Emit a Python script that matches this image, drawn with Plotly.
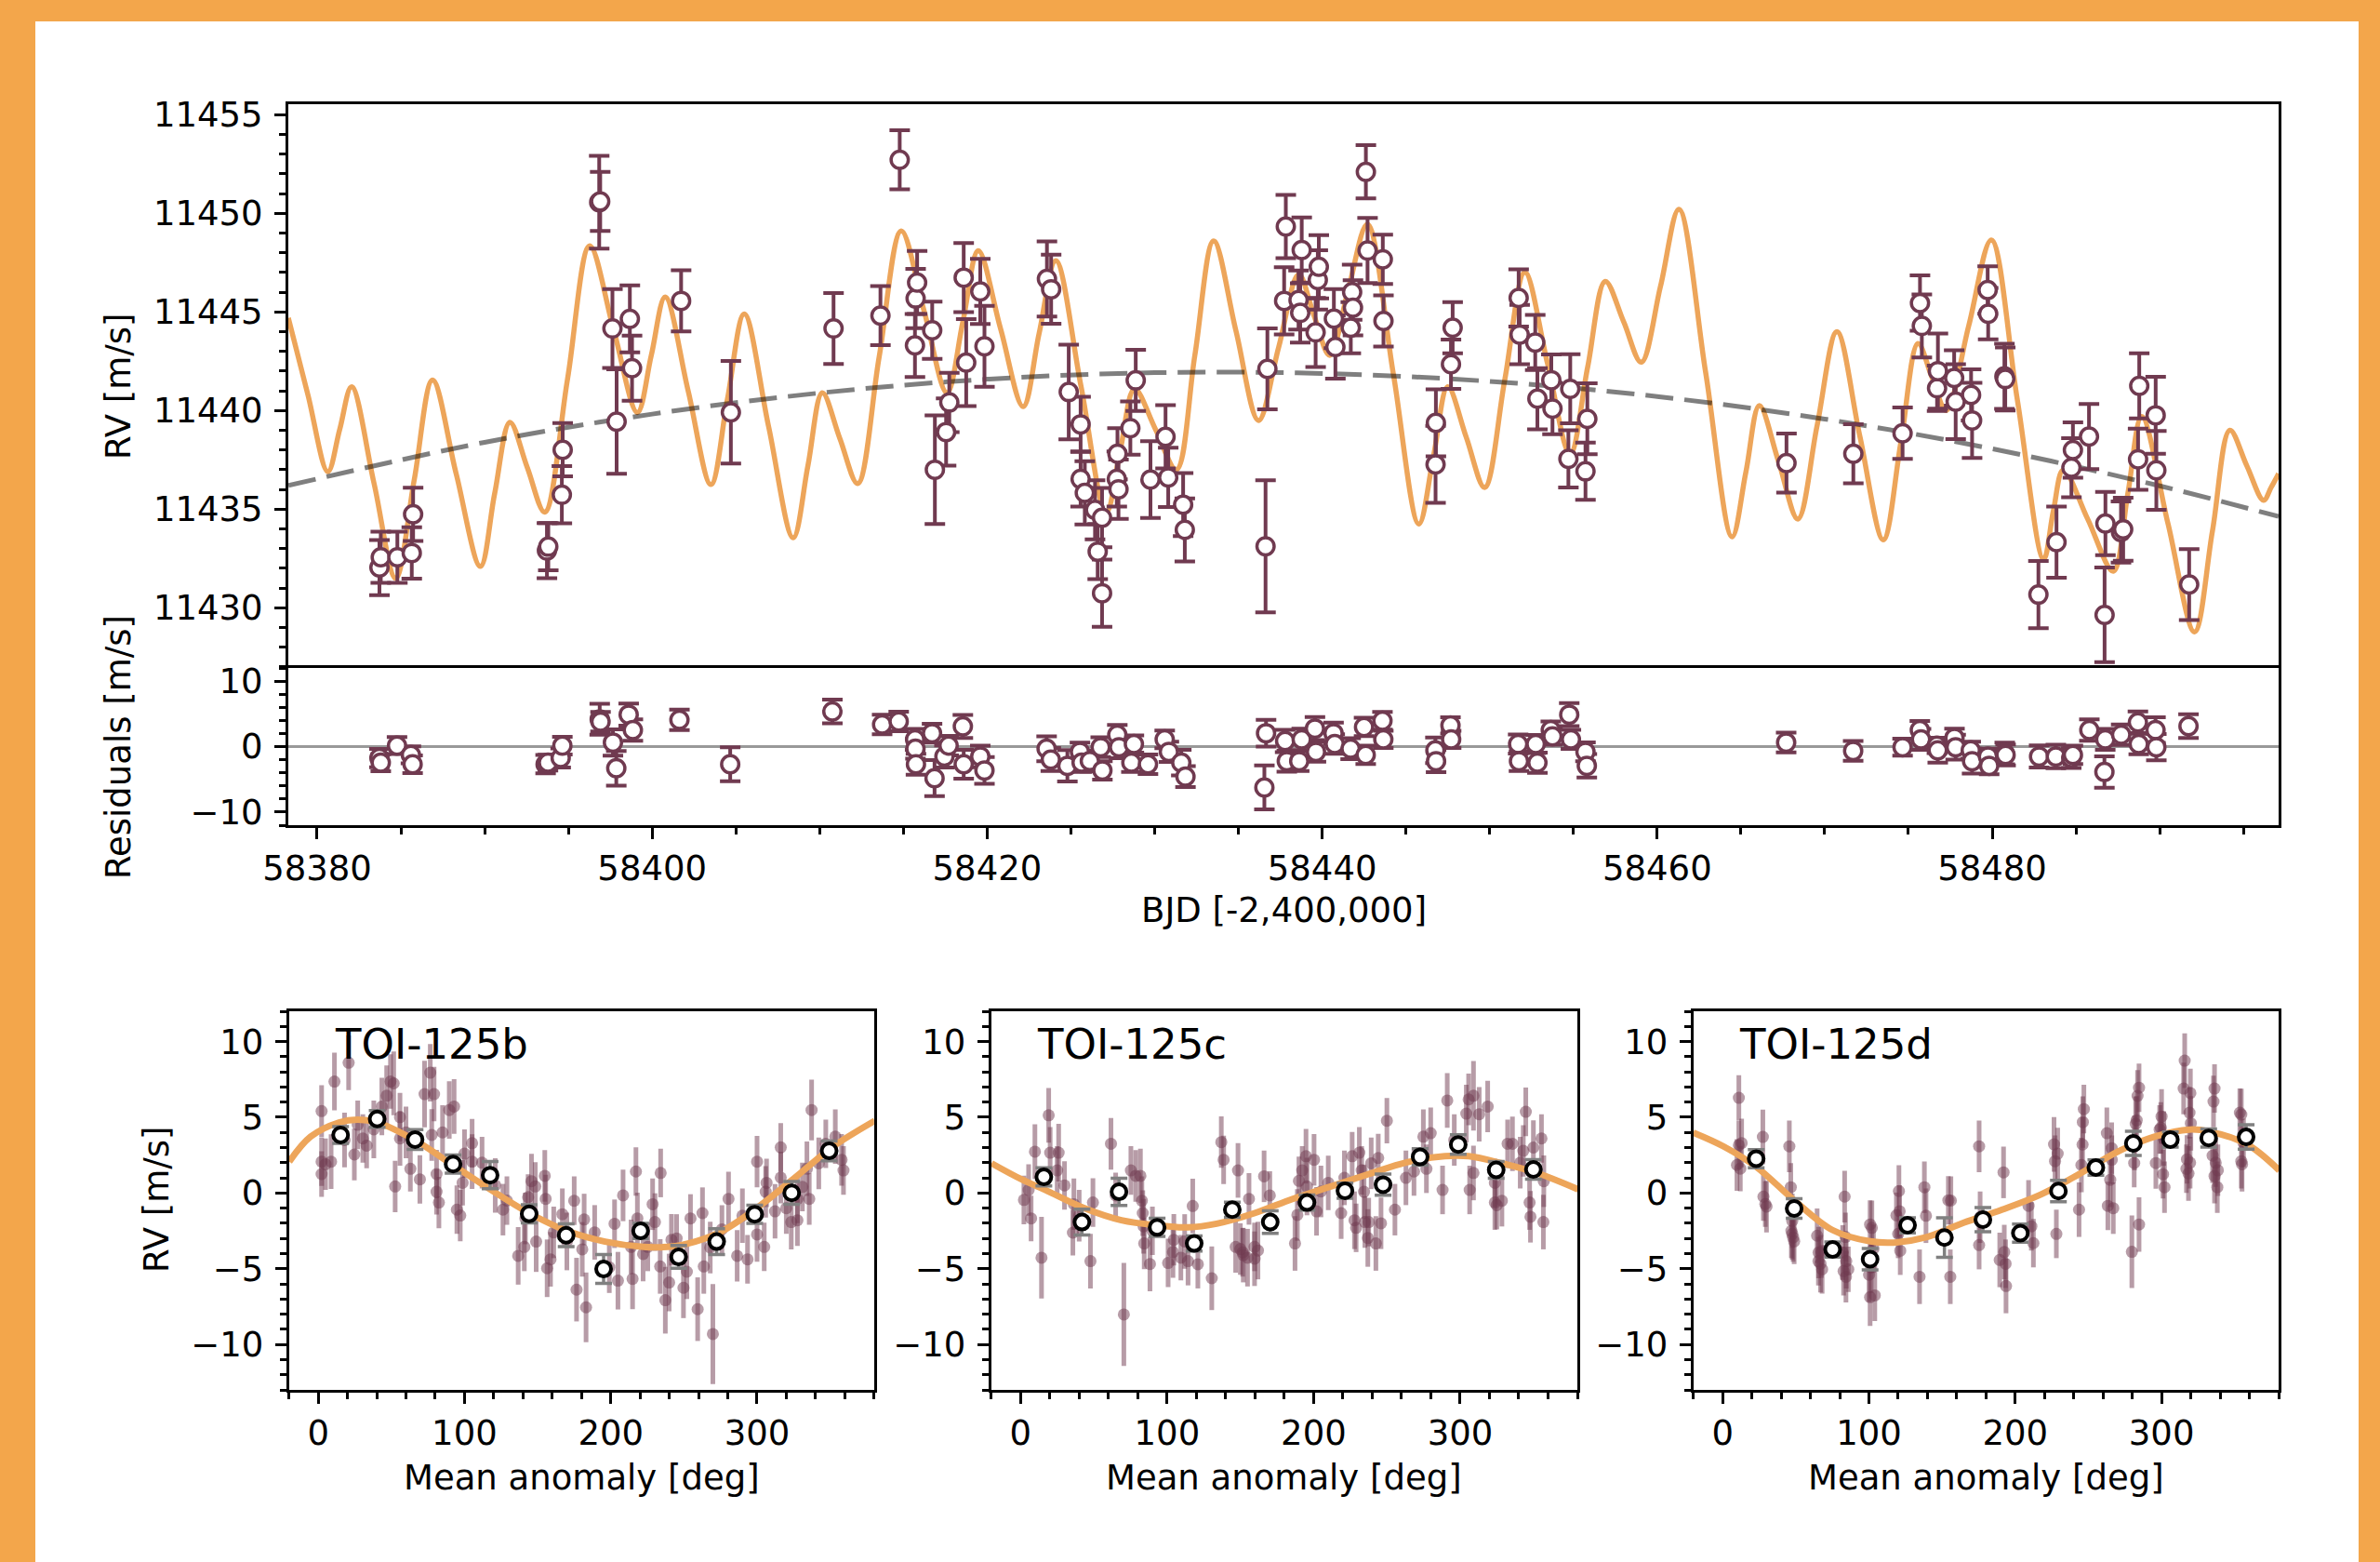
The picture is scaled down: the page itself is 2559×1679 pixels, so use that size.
import plotly.graph_objects as go

W, H = 2559, 1679

# ---------------- data: top panel (RV time series) ----------------
rv_t = [58383.72, 58383.80, 58384.79, 58385.65, 58385.73, 58393.72, 58393.80, 58394.61, 58394.66, 58396.84,
        58396.90, 58397.63, 58397.88, 58398.67, 58398.80, 58401.73, 58404.70, 58410.83, 58413.63, 58414.78,
        58415.69, 58415.73, 58415.82, 58416.72, 58416.88, 58417.55, 58417.74, 58418.60, 58418.75, 58419.59,
        58419.84, 58423.57, 58423.82, 58424.87, 58425.58, 58425.58, 58425.83, 58426.44, 58426.60, 58426.86,
        58426.86, 58427.74, 58427.78, 58427.84, 58428.55, 58428.87, 58429.75, 58430.65, 58430.81, 58431.70,
        58431.80, 58436.62, 58436.73, 58437.73, 58437.83, 58438.59, 58438.69, 58438.78, 58439.61, 58439.74,
        58439.80, 58440.70, 58440.79, 58441.71, 58441.79, 58441.84, 58442.61, 58442.71, 58443.62, 58443.66,
        58446.77, 58446.79, 58447.69, 58447.79, 58451.73, 58451.79, 58452.72, 58452.85, 58453.68, 58453.75,
        58454.70, 58454.81, 58455.72, 58455.83, 58467.72, 58471.71, 58474.65, 58475.69, 58475.80, 58476.71,
        58476.76, 58477.73, 58477.82, 58478.74, 58478.80, 58479.73, 58479.76, 58480.73, 58480.78, 58482.76,
        58483.84, 58484.73, 58484.82, 58485.78, 58486.71, 58486.76, 58487.69, 58487.82, 58488.71, 58488.78,
        58489.76, 58489.80, 58491.76]
rv_v = [11432.04, 11432.56, 11432.56, 11432.78, 11434.74, 11432.90, 11433.10, 11435.73, 11438.01, 11450.56,
        11450.60, 11444.16, 11439.44, 11444.65, 11442.15, 11445.56, 11439.91, 11444.16, 11444.81, 11452.71,
        11443.30, 11445.68, 11446.49, 11444.07, 11437.00, 11438.91, 11440.41, 11446.74, 11442.43, 11446.04,
        11443.26, 11446.67, 11446.15, 11440.94, 11439.30, 11436.53, 11435.83, 11434.97, 11432.85, 11434.57,
        11430.74, 11436.53, 11437.81, 11436.01, 11439.11, 11441.53, 11436.50, 11438.67, 11436.61, 11435.23,
        11433.95, 11433.12, 11442.11, 11445.56, 11449.33, 11445.60, 11444.95, 11448.14, 11443.96, 11446.62,
        11447.29, 11444.66, 11443.22, 11444.20, 11446.00, 11445.21, 11452.10, 11448.11, 11447.67, 11444.54,
        11437.27, 11439.38, 11442.35, 11444.20, 11445.71, 11443.85, 11443.45, 11440.60, 11441.54, 11440.10,
        11437.55, 11441.10, 11436.92, 11439.58, 11437.34, 11437.81, 11438.85, 11445.45, 11444.29, 11441.13,
        11442.00, 11441.65, 11440.45, 11440.79, 11439.50, 11446.11, 11444.91, 11441.73, 11441.60, 11430.67,
        11433.33, 11437.10, 11438.00, 11438.68, 11429.64, 11434.27, 11433.84, 11433.98, 11437.53, 11441.25,
        11439.76, 11436.97, 11431.18]
rv_err = [1.4, 1.3, 1.3, 1.3, 1.35, 1.4, 1.2, 1.45, 1.35, 2.35,
          1.5, 2.0, 2.65, 1.7, 1.65, 1.55, 2.6, 1.8, 1.5, 1.5,
          1.6, 1.5, 1.6, 1.45, 2.75, 1.7, 1.5, 1.75, 2.2, 1.65,
          2.05, 1.9, 1.75, 2.4, 1.4, 1.4, 1.6, 1.5, 1.4, 1.5,
          1.7, 1.4, 1.3, 1.5, 1.35, 1.55, 1.95, 1.6, 1.5, 1.6,
          1.6, 3.35, 2.05, 1.7, 1.6, 1.5, 1.5, 1.65, 1.75, 1.5,
          1.6, 1.5, 1.6, 1.3, 1.4, 1.4, 1.35, 1.65, 1.25, 1.3,
          1.95, 1.7, 1.25, 1.3, 1.45, 1.5, 1.4, 1.55, 1.3, 1.3,
          1.45, 1.75, 1.45, 1.8, 1.5, 1.5, 1.3, 1.4, 1.6, 1.15,
          1.9, 1.4, 1.9, 1.3, 1.9, 1.2, 1.3, 1.65, 1.6, 1.7,
          1.8, 1.5, 1.4, 1.65, 2.4, 1.6, 1.55, 1.6, 1.55, 1.65,
          1.95, 2.0, 1.8]

# full model curve (read at extrema and in between)
model_t = [58378.28, 58379.45, 58380.64, 58381.35, 58382.06, 58383.40, 58384.69, 58385.80, 58386.89, 58388.30,
           58389.75, 58390.60, 58391.51, 58392.55, 58393.59, 58394.95, 58396.27, 58397.70, 58399.12, 58399.95,
           58400.78, 58402.15, 58403.51, 58404.50, 58405.50, 58406.95, 58408.42, 58409.30, 58410.16, 58411.20,
           58412.27, 58413.55, 58414.87, 58416.25, 58417.60, 58418.55, 58419.47, 58420.80, 58422.15, 58423.10,
           58424.10, 58425.60, 58427.10, 58427.95, 58428.80, 58430.05, 58431.30, 58432.40, 58433.52, 58434.85,
           58436.20, 58437.40, 58438.60, 58439.50, 58440.45, 58441.55, 58442.70, 58444.25, 58445.77, 58446.65,
           58447.50, 58448.60, 58449.70, 58450.90, 58452.10, 58453.45, 58454.80, 58455.85, 58456.90, 58458.00,
           58459.05, 58460.20, 58461.30, 58462.90, 58464.47, 58465.30, 58466.10, 58467.25, 58468.40, 58469.55,
           58470.73, 58472.10, 58473.50, 58474.55, 58475.57, 58476.40, 58477.26, 58478.60, 58479.95, 58481.50,
           58483.07, 58483.65, 58484.25, 58485.70, 58487.23, 58488.10, 58488.93, 58490.50, 58492.08, 58493.15,
           58494.19, 58495.20, 58496.20, 58496.65, 58497.10]
model_v = [11444.70, 11440.80, 11436.90, 11439.05, 11441.20, 11436.30, 11431.50, 11436.50, 11441.55, 11436.80,
           11432.10, 11435.80, 11439.40, 11437.10, 11434.85, 11441.60, 11448.35, 11444.10, 11439.90, 11442.80,
           11445.75, 11441.00, 11436.25, 11440.60, 11444.90, 11439.20, 11433.55, 11437.20, 11440.90, 11438.60,
           11436.30, 11442.70, 11449.10, 11445.00, 11440.90, 11444.50, 11448.10, 11444.15, 11440.20, 11443.90,
           11447.60, 11441.25, 11434.80, 11438.00, 11441.10, 11439.05, 11437.00, 11442.80, 11448.60, 11444.05,
           11439.50, 11443.20, 11446.90, 11444.85, 11442.80, 11446.10, 11449.45, 11441.85, 11434.25, 11437.70,
           11441.20, 11438.65, 11436.10, 11441.55, 11447.00, 11442.40, 11437.80, 11442.20, 11446.55, 11444.50,
           11442.45, 11446.30, 11450.20, 11441.90, 11433.60, 11436.90, 11440.25, 11437.40, 11434.50, 11439.25,
           11444.00, 11438.70, 11433.45, 11438.40, 11443.40, 11441.70, 11440.00, 11444.30, 11448.65, 11440.55,
           11432.45, 11434.90, 11437.00, 11434.50, 11431.85, 11435.80, 11439.70, 11434.25, 11428.78, 11433.90,
           11439.00, 11437.20, 11435.45, 11436.10, 11436.80]

# long-term trend (dashed)
trend_t = [58378.28, 58390, 58400, 58410, 58420, 58430, 58440, 58450, 58460, 58470, 58480, 58490, 58497.1]
trend_v = [11436.20, 11438.39, 11439.82, 11440.89, 11441.59, 11441.92, 11441.88, 11441.48, 11440.71,
           11439.57, 11438.06, 11436.18, 11434.63]

# residuals
res_t = [58383.72, 58383.80, 58384.77, 58385.60, 58385.70, 58393.64, 58393.78, 58394.54, 58394.64, 58396.87,
         58396.92, 58397.66, 58397.86, 58398.60, 58398.85, 58401.63, 58404.66, 58410.76, 58413.73, 58414.72,
         58415.70, 58415.72, 58415.75, 58416.71, 58416.86, 58417.45, 58417.70, 58418.55, 58418.60, 58419.59,
         58419.84, 58423.55, 58423.80, 58424.79, 58425.54, 58425.64, 58426.13, 58426.78, 58426.88, 58427.77,
         58427.87, 58428.61, 58428.76, 58429.60, 58430.60, 58430.85, 58431.59, 58431.84, 58436.55, 58436.65,
         58437.79, 58437.89, 58438.63, 58438.78, 58439.57, 58439.63, 58440.68, 58440.75, 58441.70, 58442.50,
         58442.60, 58443.60, 58443.65, 58446.76, 58446.80, 58447.66, 58447.70, 58451.70, 58451.75, 58452.75,
         58452.85, 58453.65, 58453.75, 58454.75, 58454.85, 58455.72, 58455.80, 58467.70, 58471.70, 58474.65,
         58475.68, 58475.75, 58476.70, 58476.75, 58477.75, 58477.82, 58478.72, 58478.80, 58479.75, 58479.82,
         58480.75, 58480.80, 58482.80, 58483.80, 58484.72, 58484.82, 58485.80, 58486.70, 58486.75, 58487.70,
         58488.70, 58488.75, 58489.75, 58489.80, 58491.72]
res_v = [-1.75, -2.46, 0.15, -1.27, -2.69, -2.69, -2.46, -1.75, 0.15, 4.17,
         3.80, 0.62, -3.31, 4.88, 2.52, 4.08, -2.69, 5.36, 3.37, 3.84,
         1.10, -0.33, -2.69, 2.04, -4.82, -1.51, 0.15, 3.08, -2.69, -1.51,
         -3.64, -0.33, -1.98, -2.93, -0.80, -2.46, -2.20, -0.09, -3.64, 1.81,
         -0.09, -2.46, 0.39, -2.69, 1.10, -0.80, -2.46, -4.59, -6.24, 2.04,
         0.86, -2.22, -2.22, 1.10, 2.75, -0.80, 2.04, 0.39, -0.33, 2.99,
         -1.27, 3.94, 1.10, -0.56, -2.22, 3.23, 1.10, 0.39, -2.22, 0.39,
         -2.46, 2.52, 1.57, 4.88, 1.10, -0.80, -2.93, 0.62, -0.66, -0.09,
         2.52, 1.10, 0.15, -0.56, 1.33, -0.09, -0.56, -2.22, -1.51, -2.93,
         -1.04, -1.27, -1.51, -1.51, -1.75, -1.27, 2.52, -3.88, 1.10, 1.81,
         3.70, 0.39, 2.52, -0.09, 3.13]
res_err = [1.4, 1.3, 1.3, 1.3, 1.35, 1.4, 1.2, 1.45, 1.35, 2.35,
           1.5, 2.0, 2.65, 1.7, 1.65, 1.55, 2.6, 1.8, 1.5, 1.5,
           1.6, 1.5, 1.6, 1.45, 2.75, 1.7, 1.5, 1.75, 2.2, 1.65,
           2.05, 1.9, 1.75, 2.4, 1.4, 1.4, 1.6, 1.5, 1.4, 1.5,
           1.7, 1.4, 1.3, 1.5, 1.35, 1.55, 1.95, 1.6, 3.35, 2.05,
           1.7, 1.6, 1.5, 1.65, 1.75, 1.5, 1.6, 1.5, 1.6, 1.4,
           1.4, 1.35, 1.3, 1.95, 1.7, 1.25, 1.3, 1.45, 1.5, 1.4,
           1.55, 1.3, 1.3, 1.75, 1.45, 1.45, 1.8, 1.5, 1.5, 1.3,
           1.4, 1.6, 1.15, 1.9, 1.4, 1.9, 1.3, 1.9, 1.2, 1.3,
           1.65, 1.6, 1.7, 1.8, 1.5, 1.4, 1.65, 2.4, 1.6, 1.55,
           1.65, 1.55, 1.95, 2.0, 1.8]

# ---------------- data: phase-folded panels ----------------
b_phase = [2.3, 2.3, 2.3, 8.8, 11.1, 20.8, 30.5, 24.7, 33.1, 43.5,
           46.8, 49.4, 51.6, 52.6, 55.9, 55.9, 63.0, 69.5, 72.7, 76.6,
           77.6, 79.2, 80.9, 80.9, 82.5, 89.6, 92.9, 94.8, 97.1, 98.7,
           105.2, 105.2, 126.3, 136.7, 140.9, 141.6, 143.5, 145.8, 148.4, 149.0,
           154.9, 155.5, 156.5, 158.8, 166.9, 175.0, 176.6, 180.5, 183.1, 181.8,
           202.6, 204.9, 208.4, 213.9, 214.9, 217.2, 218.2, 222.1, 225.3, 228.6,
           230.2, 233.8, 234.1, 237.3, 239.9, 241.5, 249.7, 254.5, 259.4, 262.7,
           263.6, 269.8, 280.5, 286.4, 293.5, 300.0, 300.0, 304.9, 305.9, 306.5,
           312.3, 316.2, 316.2, 323.4, 327.6, 327.6, 334.1, 335.7, 337.3, 342.2,
           347.0, 353.5, 357.8, 359.1,
           5.0, 18.0, 27.0, 38.0, 60.0, 85.0, 100.0, 112.0, 121.0, 129.0,
           161.0, 170.0, 189.0, 199.0, 245.0, 252.0, 268.0, 276.0, 290.0, 320.0, 331.0]
b_rv = [5.41, 2.07, 1.25, 2.07, 7.36, 8.60, 3.60, 2.54, 3.13, 5.71,
        6.42, 7.36, 7.24, 0.43, 5.01, 3.60, 1.60, 0.90, 6.53, 7.94,
        3.83, 6.53, 1.25, 0.08, -0.63, 5.48, 5.71, -1.10, -1.49, 0.67,
        3.29, 2.07, -1.10, -4.15, -3.56, -1.68, -0.27, 0.78, 0.43, -3.21,
        1.13, -0.39, -4.97, -4.38, -1.40, -0.51, -6.38, -3.72, -7.55, -1.75,
        -2.03, -5.79, -0.16, -3.56, -5.67, 1.42, -1.68, -4.03, -3.56, -0.74,
        -1.92, -4.85, 1.32, -7.08, -5.91, -3.09, -6.26, -1.68, -7.67, -1.33,
        -4.85, -9.31, -0.39, -4.15, -4.38, 2.07, -2.74, -3.56, 0.08, 0.67,
        -1.21, 3.01, 1.02, -1.92, -1.80, -0.39, 1.60, -0.39, 5.48, 1.96,
        3.25, 3.72, 2.19, 1.49,
        1.90, 3.50, 4.50, 4.20, 4.00, 4.00, 2.60, 2.00, 0.50, -0.50,
        -2.60, -3.20, -2.60, -4.90, -3.00, -5.20, -3.60, -2.40, -1.50, -1.00, 0.40]
b_err = [1.7, 1.6, 1.5, 1.8, 1.9, 1.8, 1.6, 1.7, 1.5, 1.9,
         2.0, 1.8, 2.1, 1.7, 1.6, 1.8, 1.5, 1.6, 2.2, 1.9,
         1.7, 1.8, 1.6, 1.5, 1.7, 1.9, 1.8, 1.6, 1.7, 1.5,
         1.6, 1.8, 1.7, 1.9, 1.6, 1.7, 1.5, 1.8, 1.6, 2.0,
         1.7, 1.6, 1.9, 1.8, 1.7, 1.6, 2.1, 1.8, 2.3, 1.7,
         1.6, 1.9, 1.7, 1.8, 2.0, 1.6, 1.7, 1.8, 1.6, 1.7,
         1.9, 1.8, 1.6, 2.2, 1.9, 1.7, 2.0, 1.6, 2.1, 1.7,
         1.8, 3.3, 1.8, 1.7, 1.6, 1.7, 1.8, 1.6, 1.7, 1.6,
         1.8, 1.6, 1.7, 1.8, 1.7, 1.6, 1.8, 1.7, 2.0, 1.7,
         1.6, 1.8, 1.7, 1.6,
         1.7, 1.8, 1.6, 1.9, 1.7, 1.8, 1.6, 1.7, 1.8, 1.6,
         1.7, 1.9, 1.8, 1.7, 1.6, 1.8, 1.7, 1.6, 1.8, 1.7, 1.6]
b_bin_phase = [15.3, 40.3, 66.2, 92.2, 117.5, 144.2, 169.5, 195.1, 220.4, 246.4, 272.4, 298.4, 323.7, 349.3]
b_bin_rv = [3.83, 4.89, 3.53, 1.91, 1.18, -1.38, -2.79, -5.02, -2.50, -4.22, -3.21, -1.40, 0.01, 2.78]
b_bin_err = [0.55, 0.55, 0.65, 0.6, 0.9, 0.6, 0.75, 0.95, 0.5, 0.75, 0.85, 0.6, 0.75, 0.65]
b_model_phase = [-19.8, -5.2, 14.3, 27.0, 40.3, 66.2, 92.2, 118.2, 144.2, 170.1, 196.1, 222.1, 235.0,
                 248.1, 274.0, 300.0, 326.0, 351.9, 380.5]
b_model_rv = [2.07, 3.72, 4.66, 4.85, 4.66, 3.48, 1.84, 0.20, -1.33, -2.50, -3.21, -3.56, -3.58,
              -3.44, -2.62, -0.98, 1.02, 3.06, 4.77]

c_phase = [2.3, 5.5, 7.2, 9.8, 14.3, 19.2, 20.2, 25.0, 26.0, 35.7,
           36.4, 47.7, 49.4, 61.7, 64.9, 70.5, 75.3, 78.6, 81.8, 82.8,
           83.4, 84.4, 88.3, 100.7, 104.6, 109.4, 114.3, 117.5, 130.5, 137.0,
           138.6, 148.4, 146.8, 151.6, 154.9, 155.9, 159.7, 159.7, 166.2, 170.1,
           187.3, 188.9, 192.2, 194.8, 195.5, 200.3, 202.0, 210.0, 218.8, 226.3,
           227.9, 231.2, 232.8, 234.4, 235.0, 237.0, 237.6, 239.3, 242.5, 244.1,
           250.0, 255.5, 268.5, 274.9, 279.9, 288.0, 291.2, 304.2, 305.8, 306.5,
           309.1, 309.1, 318.8, 323.7, 323.7, 328.5, 332.4, 335.7, 343.1, 344.8,
           347.4, 348.0, 355.5, 356.8, 357.1,
           30.0, 40.0, 84.0, 90.0, 104.0, 112.0, 121.0, 150.0, 152.0, 162.0,
           190.0, 205.0, 221.0, 229.0, 246.0, 263.0, 277.0, 296.0, 313.0, 325.0, 341.0, 350.0]
c_rv = [-0.46, 0.20, -1.68, 2.73, -4.27, 5.13, 2.66, 1.49, 2.66, -2.62,
        -0.74, -4.50, -0.63, 3.25, -0.16, -8.02, 1.49, 1.13, 1.13, -0.51,
        -1.33, -3.33, -4.69, -4.62, -3.09, -4.27, -4.50, -0.86, -5.63, 3.36,
        2.19, 1.49, -3.56, -3.92, -4.27, -0.39, -3.56, -4.34, 1.10, -0.16,
        -3.33, -1.45, 1.49, 2.43, 0.43, 2.19, -1.21, 0.67, -1.33, 2.43,
        -1.80, 2.66, 1.49, 0.08, -1.92, -2.97, -1.92, 1.96, -3.33, 2.31,
        4.77, -1.10, 1.42, 3.72, 3.95, 0.20, 6.11, 5.24, 6.18, 0.20,
        6.42, 1.32, 5.71, 0.67, -0.63, -0.51, 3.25, 3.25, 2.78, 5.36,
        -0.63, -1.57, 3.60, -1.92, 0.78,
        0.50, -1.50, -2.20, -2.50, -3.90, -3.20, -4.70, -3.70, -4.10, -3.80,
        0.80, 0.10, 1.00, -2.30, -2.00, 1.00, 1.60, 3.50, 5.20, -0.80, 2.00, 3.00]
c_err = [1.6, 1.7, 1.5, 1.8, 2.7, 1.8, 1.7, 1.6, 1.9, 1.5,
         1.7, 1.8, 1.6, 1.7, 1.5, 3.4, 1.6, 1.7, 1.8, 1.6,
         1.5, 1.7, 1.8, 1.6, 1.7, 1.5, 1.6, 1.8, 2.1, 1.7,
         1.6, 1.8, 1.7, 1.6, 1.9, 1.7, 1.6, 1.8, 1.7, 1.6,
         1.8, 1.7, 1.6, 1.8, 1.9, 1.7, 1.6, 1.8, 1.7, 1.6,
         1.9, 1.7, 1.6, 1.8, 1.7, 1.9, 1.6, 1.7, 1.8, 1.6,
         1.5, 1.7, 1.6, 1.8, 1.7, 1.6, 1.8, 1.9, 1.7, 1.6,
         2.3, 1.8, 1.7, 1.6, 1.8, 1.7, 1.6, 1.8, 1.7, 1.6,
         1.8, 1.7, 1.6, 1.8, 1.7,
         1.6, 1.7, 1.8, 1.6, 1.7, 1.8, 1.6, 1.7, 1.8, 1.9,
         1.6, 1.7, 1.8, 1.6, 1.7, 1.8, 1.6, 1.7, 1.8, 1.6, 1.7, 1.8]
c_bin_phase = [15.9, 41.9, 67.2, 93.2, 118.5, 144.5, 170.4, 195.5, 221.4, 247.4, 272.7, 298.7, 324.6, 350.0]
c_bin_rv = [1.06, -1.92, 0.08, -2.27, -3.33, -1.10, -1.92, -0.63, 0.15, 0.55, 2.38, 3.20, 1.53, 1.56]
c_bin_err = [0.6, 0.85, 0.9, 0.6, 0.5, 0.5, 0.75, 0.5, 0.5, 0.7, 0.55, 0.65, 0.55, 0.65]
c_model_phase = [-19.8, 0.7, 16.9, 42.9, 68.8, 94.8, 114.3, 133.8, 159.7, 185.7, 211.7, 237.6, 263.6,
                 289.6, 305.8, 328.5, 354.5, 380.5]
c_model_rv = [1.96, 0.90, 0.20, -0.98, -1.80, -2.15, -2.27, -2.03, -1.33, -0.39, 0.43, 1.25, 2.03,
              2.43, 2.43, 1.96, 1.25, 0.24]

d_phase = [11.1, 11.1, 9.8, 12.1, 27.5, 27.9, 29.2, 45.6, 46.6, 47.6,
           47.6, 48.2, 48.9, 64.6, 65.6, 66.9, 68.0, 83.4, 82.1, 82.7,
           84.3, 85.9, 100.8, 100.1, 100.8, 104.0, 103.1, 118.8, 120.5, 121.4,
           134.6, 137.9, 154.3, 155.6, 175.3, 175.3, 189.4, 192.0, 193.4, 193.7,
           209.1, 212.4, 226.5, 227.2, 228.1, 243.6, 246.2, 246.9, 245.2, 262.6,
           263.3, 264.9, 265.9, 279.7, 281.3, 282.3, 283.6, 284.6, 284.6, 296.1,
           298.7, 300.0, 302.0, 301.0, 315.8, 315.1, 317.4, 318.4, 319.1, 319.7,
           334.9, 335.5, 336.2, 336.2, 338.1, 353.5, 354.5, 354.5,
           13.0, 30.0, 47.0, 65.5, 67.5, 84.5, 84.0, 101.5, 102.0, 120.0,
           121.0, 139.0, 156.0, 176.0, 192.5, 211.0, 229.0, 246.0, 266.0, 267.0,
           281.5, 283.0, 299.5, 301.5, 317.0, 319.5, 320.0, 337.0, 338.5, 355.0, 356.0]
d_rv = [6.28, 3.16, 1.85, 1.61, 3.70, -0.24, -0.73, 3.08, 0.38, -1.84,
        -2.70, -2.94, -3.19, -2.82, -3.93, -4.67, -5.04, -0.24, -3.93, -5.16,
        -5.53, -5.04, -2.08, -5.40, -6.88, -6.76, -3.68, -1.47, 0.13, -3.81,
        -5.53, 0.38, -0.48, -5.53, 3.08, -3.44, -4.42, 1.36, -4.67, -6.14,
        -0.85, -3.31, 3.21, 2.10, -2.70, -1.10, 4.68, 5.54, 1.85, 3.95,
        -0.85, 0.87, 2.96, -3.88, 1.98, 4.56, 6.41, 6.95, -2.08, 1.98,
        4.19, 5.05, 0.38, 1.24, 8.74, 6.90, 2.22, 1.29, 5.30, 6.60,
        2.47, 6.04, 6.90, 1.12, 0.38, 5.30, 2.10, 5.18,
        3.30, -0.90, -2.50, -4.50, -3.90, -4.50, -2.90, -4.90, -2.30, -2.70,
        -1.20, -1.50, -0.50, -1.60, -3.90, -2.20, 2.60, 3.20, 2.20, -1.00,
        3.30, 4.80, 4.30, 3.60, 1.60, 2.00, 4.60, 2.00, 1.50, 1.90, 3.30]
d_err = [1.5, 1.6, 1.7, 1.5, 1.8, 1.6, 1.5, 1.7, 1.6, 1.8,
         1.7, 1.6, 1.5, 1.8, 1.7, 1.9, 1.6, 1.7, 1.8, 1.6,
         1.7, 1.5, 1.6, 1.8, 1.9, 1.7, 1.6, 1.5, 1.7, 1.6,
         1.8, 1.7, 1.6, 1.8, 1.7, 1.6, 1.8, 1.7, 1.6, 1.8,
         1.7, 1.6, 1.8, 1.7, 1.6, 1.8, 1.7, 1.6, 1.8, 1.7,
         1.6, 1.8, 1.7, 2.4, 1.6, 1.8, 1.7, 1.6, 1.8, 1.7,
         1.6, 1.8, 1.7, 1.6, 1.8, 1.7, 1.6, 1.8, 1.7, 1.6,
         1.8, 1.7, 1.6, 1.8, 1.7, 1.6, 1.8, 1.7,
         1.6, 1.7, 1.8, 1.6, 1.7, 1.8, 1.6, 1.7, 1.8, 1.6,
         1.7, 1.8, 1.6, 1.7, 1.8, 1.6, 1.7, 1.8, 1.6, 1.7,
         1.8, 1.6, 1.7, 1.8, 1.6, 1.7, 1.8, 1.6, 1.7, 1.8, 1.6]
d_bin_phase = [22.95, 48.9, 75.2, 100.8, 126.4, 151.6, 177.9, 203.5, 229.5, 255.1, 280.7, 306.0, 332.2, 357.8]
d_bin_rv = [2.27, -1.02, -3.73, -4.37, -2.13, -2.94, -1.76, -2.65, 0.13, 1.68, 3.28, 3.53, 3.63, 3.70]
d_bin_err = [0.6, 0.65, 0.5, 0.7, 0.5, 1.3, 0.8, 0.6, 0.7, 0.5, 0.8, 0.5, 0.6, 0.8]
d_model_phase = [-20.05, 0.6, 22.95, 48.9, 75.2, 100.8, 118.8, 138.5, 164.8, 191.0, 217.3, 243.6, 269.8,
                 296.1, 319.1, 332.2, 358.5, 380.5]
d_model_rv = [3.99, 3.08, 1.73, -0.48, -2.45, -3.19, -3.26, -2.94, -1.96, -1.10, -0.11, 1.24, 2.72,
              3.75, 4.19, 4.07, 3.21, 1.49]

planet_labels = ["TOI-125b", "TOI-125c", "TOI-125d"]

# ---------------- styles ----------------
MAROON = "#703A50"
MAROON_A = "rgba(112,58,80,0.5)"
ORANGE = "#EDA55A"
FRAME = "#F3A64B"
FONT = "DejaVu Sans"
FS = 37


def px_x(x):
    return x / W


def px_y(y):
    return 1 - y / H


fig = go.Figure()

# top panel
fig.add_trace(go.Scatter(x=model_t, y=model_v, mode="lines", xaxis="x", yaxis="y",
                         line=dict(color=ORANGE, width=5.5, shape="spline", smoothing=1.0),
                         hoverinfo="skip", showlegend=False))
fig.add_trace(go.Scatter(x=trend_t, y=trend_v, mode="lines", xaxis="x", yaxis="y",
                         line=dict(color="rgba(0,0,0,0.5)", width=5, dash="30px,12px", shape="spline"),
                         hoverinfo="skip", showlegend=False))
fig.add_trace(go.Scatter(x=rv_t, y=rv_v, mode="markers", xaxis="x", yaxis="y",
                         marker=dict(symbol="circle", size=18.5, color="white",
                                     line=dict(color=MAROON, width=3.5)),
                         error_y=dict(type="data", array=rv_err, visible=True, color=MAROON,
                                      thickness=4, width=11),
                         showlegend=False))
# residuals
fig.add_trace(go.Scatter(x=res_t, y=res_v, mode="markers", xaxis="x2", yaxis="y2",
                         marker=dict(symbol="circle", size=18.5, color="white",
                                     line=dict(color=MAROON, width=3.5)),
                         error_y=dict(type="data", array=res_err, visible=True, color=MAROON,
                                      thickness=4, width=11),
                         showlegend=False))

panels = [
    (b_phase, b_rv, b_err, b_bin_phase, b_bin_rv, b_bin_err, b_model_phase, b_model_rv),
    (c_phase, c_rv, c_err, c_bin_phase, c_bin_rv, c_bin_err, c_model_phase, c_model_rv),
    (d_phase, d_rv, d_err, d_bin_phase, d_bin_rv, d_bin_err, d_model_phase, d_model_rv),
]
for i, (ph, rv, er, bph, brv, ber, mph, mrv) in enumerate(panels):
    xa, ya = "x%d" % (i + 3), "y%d" % (i + 3)
    fig.add_trace(go.Scatter(x=ph, y=rv, mode="markers", xaxis=xa, yaxis=ya,
                             marker=dict(size=13, color=MAROON_A, line=dict(width=0)),
                             error_y=dict(type="data", array=er, visible=True, color=MAROON_A,
                                          thickness=5, width=0),
                             showlegend=False))
    fig.add_trace(go.Scatter(x=mph, y=mrv, mode="lines", xaxis=xa, yaxis=ya,
                             line=dict(color=ORANGE, width=7, shape="spline", smoothing=1.0),
                             hoverinfo="skip", showlegend=False))
    fig.add_trace(go.Scatter(x=bph, y=brv, mode="markers", xaxis=xa, yaxis=ya,
                             marker=dict(size=16, color="white", line=dict(color="black", width=4)),
                             error_y=dict(type="data", array=ber, visible=True, color="#808080",
                                          thickness=3.5, width=9),
                             showlegend=False))

# ---------------- axes ----------------
axis_common = dict(showline=True, linecolor="black", linewidth=3, mirror=True, automargin=False,
                   showgrid=False, zeroline=False, ticks="outside", ticklen=12, tickwidth=3,
                   tickcolor="black", tickfont=dict(family=FONT, size=FS, color="black"))
yextra = dict(ticklabelstandoff=5)

main_dom_x = [px_x(310), px_x(2450)]
xrange_t = [58378.28, 58497.1]

layout_axes = dict(
    # top panel x-axis: only its top frame line (the residual panel supplies the shared edge)
    xaxis=dict(axis_common, domain=main_dom_x, range=xrange_t, anchor="y", side="top",
               mirror=False, showticklabels=False, ticks=""),
    yaxis=dict(axis_common, **yextra, domain=[px_y(718), px_y(112)], range=[11426.95, 11455.53],
               anchor="x", tickmode="linear", tick0=11430, dtick=5, tickformat="d",
               minor=dict(dtick=1, ticklen=7, tickwidth=2.5, ticks="outside", tickcolor="black")),
    xaxis2=dict(axis_common, domain=main_dom_x, range=xrange_t, anchor="y2", matches="x",
                tickmode="linear", tick0=58380, dtick=20, tickformat="d",
                minor=dict(dtick=5, ticklen=7, tickwidth=2.5, ticks="outside", tickcolor="black")),
    yaxis2=dict(axis_common, **yextra, domain=[px_y(887), px_y(718)], range=[-12, 12], anchor="x2",
                tickmode="linear", tick0=0, dtick=10,
                minor=dict(dtick=2, ticklen=7, tickwidth=2.5, ticks="outside", tickcolor="black")),
)
bottom_x = [(310.7, 939.8), (1065.8, 1696.0), (1820.7, 2450.0)]
for i, (x0, x1) in enumerate(bottom_x):
    n = i + 3
    layout_axes["xaxis%d" % n] = dict(axis_common, domain=[px_x(x0), px_x(x1)], range=[-20, 380],
                                      anchor="y%d" % n, tickmode="linear", tick0=0, dtick=100,
                                      minor=dict(dtick=20, ticklen=7, tickwidth=2.5, ticks="outside",
                                                 tickcolor="black"))
    layout_axes["yaxis%d" % n] = dict(axis_common, **yextra, domain=[px_y(1494), px_y(1087)],
                                      range=[-13, 12], anchor="x%d" % n, tickmode="linear", tick0=0,
                                      dtick=5,
                                      minor=dict(dtick=1, ticklen=7, tickwidth=2.5, ticks="outside",
                                                 tickcolor="black"))

fig.update_layout(**layout_axes)

# ---------------- text ----------------
ann = []
tf = dict(family=FONT, size=FS, color="black")
ann.append(dict(text="RV [m/s]", x=px_x(127), y=px_y(415), textangle=-90, font=tf))
ann.append(dict(text="Residuals [m/s]", x=px_x(127), y=px_y(803), textangle=-90, font=tf))
ann.append(dict(text="BJD [-2,400,000]", x=px_x(1380), y=px_y(979), font=tf))
ann.append(dict(text="RV [m/s]", x=px_x(168), y=px_y(1290), textangle=-90, font=tf))
for (x0, x1) in bottom_x:
    ann.append(dict(text="Mean anomaly [deg]", x=px_x((x0 + x1) / 2), y=px_y(1588), font=tf))
for (x0, x1), lab in zip(bottom_x, planet_labels):
    ann.append(dict(text=lab, x=px_x(x0 + 47), y=px_y(1122), xanchor="left",
                    font=dict(family=FONT, size=45, color="black")))
for a in ann:
    a.setdefault("xanchor", "center")
    a.setdefault("yanchor", "middle")
    a.update(xref="paper", yref="paper", showarrow=False)

shapes = [
    dict(type="rect", xref="paper", yref="paper", x0=px_x(38), x1=px_x(2536), y0=0, y1=px_y(23),
         fillcolor="white", line=dict(width=0), layer="below"),
    dict(type="line", xref="x2 domain", yref="y2", x0=0, x1=1, y0=0, y1=0,
         line=dict(color="#999999", width=3), layer="below"),
]

fig.update_layout(template="none", width=W, height=H, margin=dict(l=0, r=0, t=0, b=0, pad=0),
                  paper_bgcolor=FRAME, plot_bgcolor="white",
                  font=dict(family=FONT, size=FS, color="black"),
                  annotations=ann, shapes=shapes, showlegend=False)

# remove the browser's default page margin so the figure sits at the window origin
fig.write_html("out.html", config={"displayModeBar": False},
               post_script="document.body.style.margin='0';document.body.style.padding='0';"
                           "document.body.style.overflow='hidden';")
